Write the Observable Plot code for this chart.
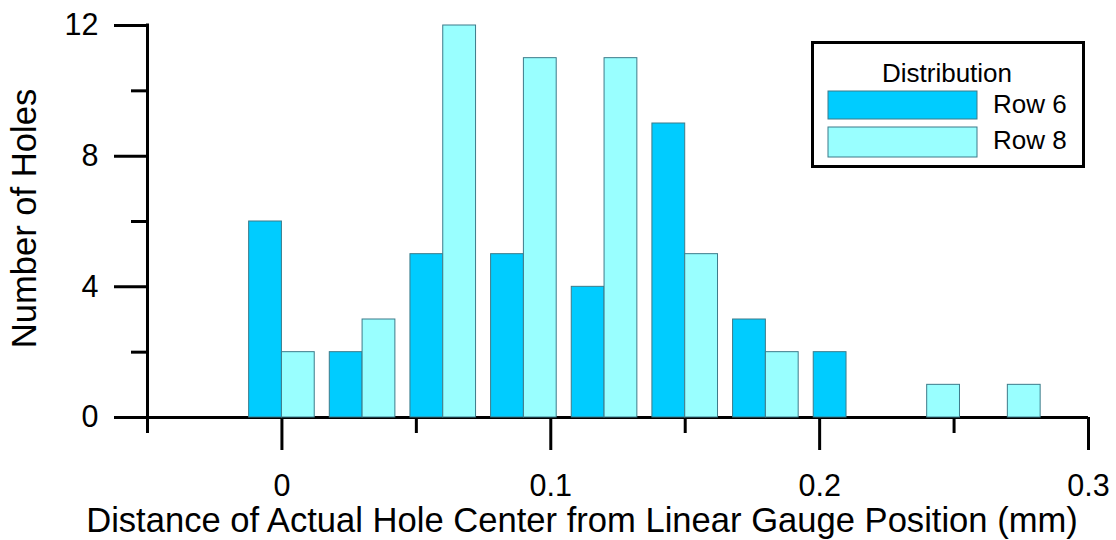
<!DOCTYPE html>
<html>
<head>
<meta charset="utf-8">
<script src="https://cdn.jsdelivr.net/npm/d3@7"></script>
<script src="https://cdn.jsdelivr.net/npm/@observablehq/plot@0.6"></script>
<style>
  html, body { margin: 0; padding: 0; background: #fff; }
  #wrap { position: relative; width: 1116px; height: 540px; font-family: "Liberation Sans", Arial, sans-serif; }
  #legend { position: absolute; left: 0; top: 0; pointer-events: none; }
</style>
</head>
<body>
<div id="wrap"></div>
<script>
// ---- data ----
const bins = [0, 0.03, 0.06, 0.09, 0.12, 0.15, 0.18, 0.21, 0.24, 0.27];
const row6 = [6, 2, 5, 5, 4, 9, 3, 2, 0, 0];
const row8 = [2, 3, 12, 11, 11, 5, 2, 0, 1, 1];
const seriesNames = ["Row 6", "Row 8"];
const seriesColors = ["#00CCFF", "#99FFFF"];
const xMajorTicks = [0, 0.1, 0.2, 0.3];
const xMinorTicks = [-0.05, 0.05, 0.15, 0.25];
const yMajorTicks = [0, 4, 8, 12];
const yMinorTicks = [2, 6, 10];
const xTitle = "Distance of Actual Hole Center from Linear Gauge Position (mm)";
const yTitle = "Number of Holes";
const legendTitle = "Distribution";

const barW = 0.0122;
const table = bins.flatMap((b, i) => [
  {bin: b, series: seriesNames[0], count: row6[i]},
  {bin: b, series: seriesNames[1], count: row8[i]}
]).filter(d => d.count > 0);

const fontFamily = "'Liberation Sans', Arial, sans-serif";

const chart = Plot.plot({
  width: 1116,
  height: 540,
  marginLeft: 147,
  marginRight: 28,
  marginTop: 25,
  marginBottom: 123,
  style: {fontFamily, color: "#000", background: "#fff", overflow: "visible"},
  x: {domain: [-0.05, 0.3]},
  y: {domain: [0, 12]},
  color: {domain: seriesNames, range: seriesColors},
  marks: [
    Plot.ruleY([0], {x1: -0.05, x2: 0.3, stroke: "#000", strokeWidth: 3}),
    Plot.ruleX([-0.05], {y1: 0, y2: 12, stroke: "#000", strokeWidth: 3, strokeLinecap: "square"}),
    Plot.axisX({ticks: xMajorTicks, tickSize: 33, tickPadding: 24, strokeWidth: 3, fontSize: 30.5,
      tickFormat: d => d === 0 ? "0" : String(d), label: null}),
    Plot.axisX({ticks: xMinorTicks, tickSize: 16, strokeWidth: 3, tickFormat: () => "", label: null}),
    Plot.axisY({ticks: yMajorTicks, tickSize: 33, tickPadding: 16, strokeWidth: 3, fontSize: 30.5, label: null}),
    Plot.axisY({ticks: yMinorTicks, tickSize: 16, strokeWidth: 3, tickFormat: () => "", label: null}),
    Plot.rectY(table, {
      x1: d => d.series === seriesNames[0] ? d.bin - barW : d.bin,
      x2: d => d.series === seriesNames[0] ? d.bin : d.bin + barW,
      y: "count",
      fill: "series",
      stroke: "#3d7b8a",
      strokeWidth: 1
    }),
    Plot.text([xTitle], {frameAnchor: "bottom", lineAnchor: "bottom", textAnchor: "middle", dy: 114, dx: -36, fontSize: 34.6, fill: "#000"}),
    Plot.text([yTitle], {frameAnchor: "left", rotate: -90, lineAnchor: "bottom", textAnchor: "middle", dx: -112, dy: -3, fontSize: 34.6, fill: "#000"})
  ]
});

const wrap = document.getElementById("wrap");
wrap.appendChild(chart);

// ---- legend overlay ----
const ns = "http://www.w3.org/2000/svg";
const lg = document.createElementNS(ns, "svg");
lg.setAttribute("id", "legend");
lg.setAttribute("width", 1116);
lg.setAttribute("height", 540);
lg.style.fontFamily = fontFamily;
const box = document.createElementNS(ns, "rect");
box.setAttribute("x", 812.5); box.setAttribute("y", 42.5);
box.setAttribute("width", 271); box.setAttribute("height", 124);
box.setAttribute("fill", "#fff"); box.setAttribute("stroke", "#000"); box.setAttribute("stroke-width", 3);
lg.appendChild(box);
const t = document.createElementNS(ns, "text");
t.setAttribute("x", 947); t.setAttribute("y", 82);
t.setAttribute("text-anchor", "middle"); t.setAttribute("font-size", 26);
t.textContent = legendTitle;
lg.appendChild(t);
const swY = [91, 127];
const swH = [28, 30];
seriesNames.forEach((name, i) => {
  const r = document.createElementNS(ns, "rect");
  r.setAttribute("x", 828); r.setAttribute("y", swY[i]);
  r.setAttribute("width", 149); r.setAttribute("height", swH[i]);
  r.setAttribute("fill", seriesColors[i]); r.setAttribute("stroke", "#3d7b8a"); r.setAttribute("stroke-width", 1);
  lg.appendChild(r);
  const tx = document.createElementNS(ns, "text");
  tx.setAttribute("x", 993); tx.setAttribute("y", swY[i] + 22);
  tx.setAttribute("font-size", 26);
  tx.textContent = name;
  lg.appendChild(tx);
});
wrap.appendChild(lg);
</script>
</body>
</html>
